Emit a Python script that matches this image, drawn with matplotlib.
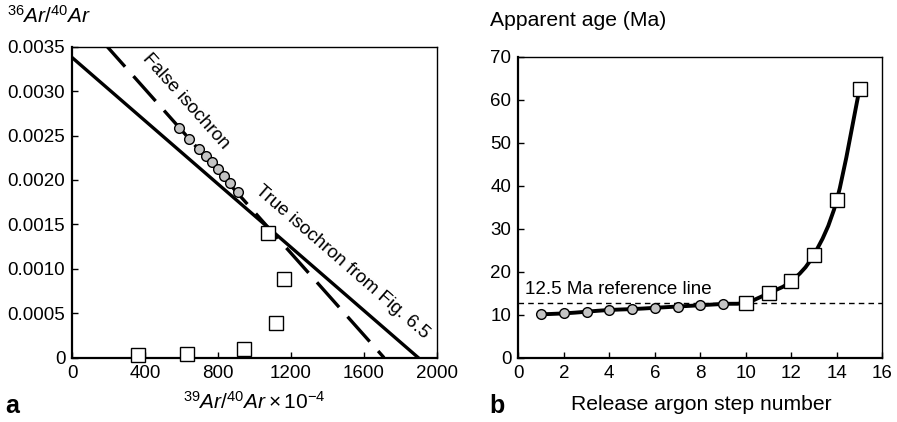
import matplotlib.pyplot as plt
from matplotlib.path import Path
from matplotlib.patches import PathPatch
import numpy as np

plt.rcParams["font.family"] = ["Liberation Sans", "DejaVu Sans"]
plt.rcParams["mathtext.fontset"] = "custom"
plt.rcParams["mathtext.rm"] = "Liberation Sans"
plt.rcParams["mathtext.it"] = "Liberation Sans:italic"

# panel a: isochron diagram
circ_x = [586, 642, 697, 732, 767, 801, 834, 867, 908]
circ_y = [0.00259, 0.00246, 0.002345, 0.00227, 0.0022, 0.002124, 0.002048, 0.00197, 0.00186]
sq_x = [1072, 1162, 1116, 942, 630, 361]
sq_y = [0.0014, 0.000886, 0.000387, 0.000095, 0.000042, 0.000027]
true_iso = (0.003376, 1899)    # y-intercept, x-intercept
false_iso = (0.003942, 1711)

# panel b: age spectrum
steps_circ = [1, 2, 3, 4, 5, 6, 7, 8, 9]
age_circ = [10.1, 10.3, 10.7, 11.1, 11.3, 11.6, 11.9, 12.2, 12.5]
steps_sq = [10, 11, 12, 13, 14, 15]
age_sq = [12.8, 15.0, 17.8, 24.0, 36.7, 62.6]
ref_age = 12.8

W, H = 897, 422
fig = plt.figure(figsize=(W / 100, H / 100), dpi=100)

def axes_px(x0, y0, x1, y1):
    return fig.add_axes([x0 / W, 1 - y1 / H, (x1 - x0) / W, (y1 - y0) / H])

ax1 = axes_px(72.3, 46.7, 436.7, 357.7)
ax2 = axes_px(518.3, 56.7, 882.3, 357.7)

for ax in (ax1, ax2):
    ax.tick_params(direction="in", length=4, width=1, labelsize=13.5, pad=5)
    for s in ax.spines.values():
        s.set_linewidth(1.0)
    ax.spines["left"].set_linewidth(1.6)
    ax.spines["bottom"].set_linewidth(1.6)

# ---- panel a
xs = np.array([0, true_iso[1]])
ax1.plot(xs, true_iso[0] * (1 - xs / true_iso[1]), color="black", lw=2.4, zorder=2)
xs = np.array([0, false_iso[1]])
ax1.plot(xs, false_iso[0] * (1 - xs / false_iso[1]), color="black", lw=2.4,
         dashes=(10, 3.8), zorder=2)
ax1.plot(circ_x, circ_y, "o", ms=7, mfc="#c4c4c4", mec="black", mew=1.0, zorder=3)
ax1.plot(sq_x, sq_y, "s", ms=9.5, mfc="white", mec="black", mew=1.0, zorder=3,
         clip_on=False)

ax1.set_xlim(0, 2000)
ax1.set_ylim(0, 0.0035)
ax1.set_xticks([0, 400, 800, 1200, 1600, 2000])
ax1.set_yticks([0, 0.0005, 0.001, 0.0015, 0.002, 0.0025, 0.003, 0.0035])
ax1.set_yticklabels(["0", "0.0005", "0.0010", "0.0015", "0.0020", "0.0025", "0.0030", "0.0035"])

ax1.text(624, 0.00288, "False isochron", rotation=-48.3, rotation_mode="anchor",
         ha="center", va="center", fontsize=13.5)
ax1.text(1480, 0.00108, "True isochron from Fig. 6.5", rotation=-41, rotation_mode="anchor",
         ha="center", va="center", fontsize=13.5)

fig.text(7 / W, 1 - 16 / H, r"$^{36}\mathit{Ar}/^{40}\mathit{Ar}$", fontsize=15, va="center", ha="left")
fig.text(254 / W, 1 - 402 / H, r"$^{39}\mathit{Ar}/^{40}\mathit{Ar}\times10^{-4}$", fontsize=15,
         va="center", ha="center")
fig.text(5 / W, 1 - 406 / H, "a", fontsize=18, fontweight="bold", va="center", ha="left")

# ---- panel b
x_all = np.array(steps_circ + steps_sq, dtype=float)
y_all = np.array(age_circ + age_sq, dtype=float)
# smooth connector: Catmull-Rom segments drawn as cubic Bezier curves
pts = np.column_stack([x_all, y_all])
verts = [pts[0]]
codes = [Path.MOVETO]
for i in range(len(pts) - 1):
    p0 = pts[i - 1] if i > 0 else pts[i]
    p1, p2 = pts[i], pts[i + 1]
    p3 = pts[i + 2] if i + 2 < len(pts) else pts[i + 1]
    verts += [p1 + (p2 - p0) / 6, p2 - (p3 - p1) / 6, p2]
    codes += [Path.CURVE4] * 3
ax2.add_patch(PathPatch(Path(verts, codes), fill=False, lw=2.8, ec="black", zorder=2))

ax2.axhline(ref_age, color="black", lw=1.0, dashes=(4, 3), zorder=1)
ax2.plot(steps_circ, age_circ, "o", ms=7, mfc="#c4c4c4", mec="black", mew=1.0, zorder=3)
ax2.plot(steps_sq, age_sq, "s", ms=9.5, mfc="white", mec="black", mew=1.0, zorder=3)
ax2.text(0.3, 13.8, "12.5 Ma reference line", fontsize=13.5, va="bottom", ha="left")

ax2.set_xlim(0, 16)
ax2.set_ylim(0, 70)
ax2.set_xticks(range(0, 17, 2))
ax2.set_yticks(range(0, 71, 10))

fig.text(490 / W, 1 - 21 / H, "Apparent age (Ma)", fontsize=15.2, va="center", ha="left")
fig.text(701 / W, 1 - 405 / H, "Release argon step number", fontsize=15.2, va="center", ha="center")
fig.text(489 / W, 1 - 406 / H, "b", fontsize=18, fontweight="bold", va="center", ha="left")

fig.savefig("out.png", dpi=100)
